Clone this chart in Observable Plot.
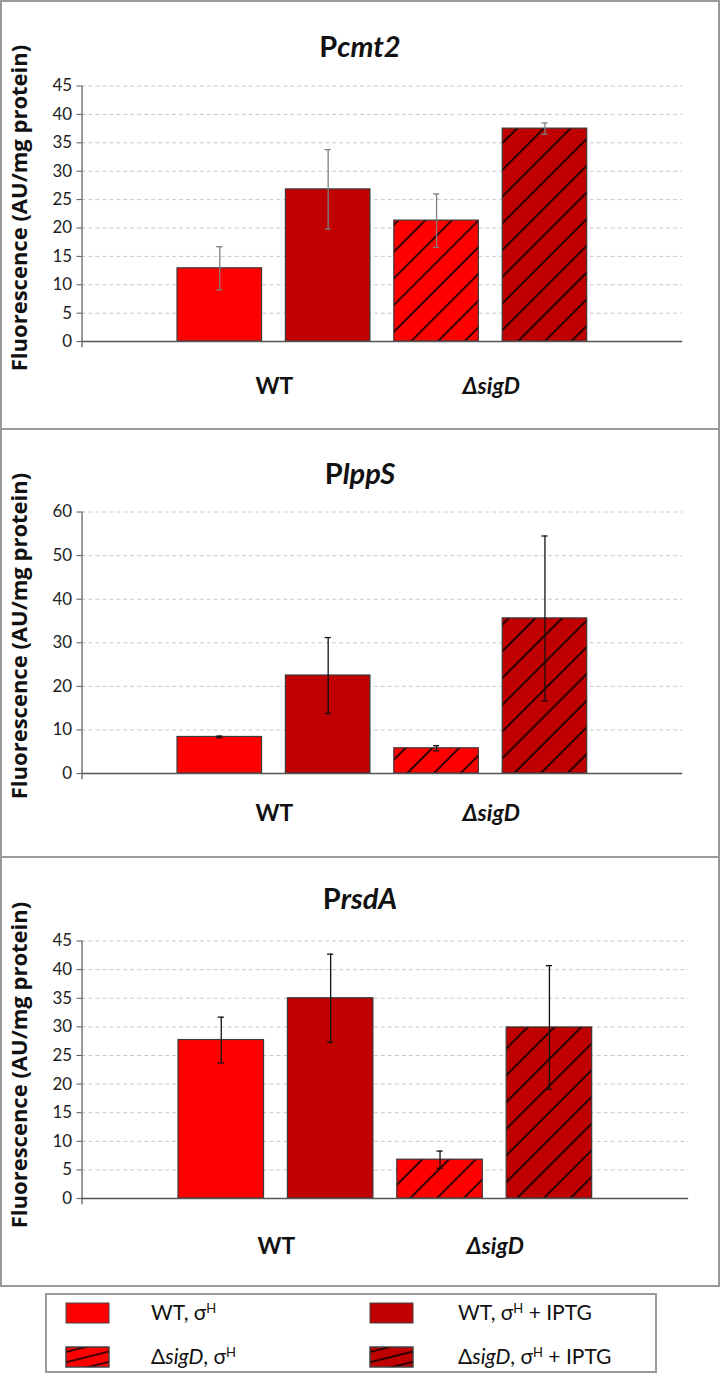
<!DOCTYPE html>
<html><head><meta charset="utf-8">
<script src="https://cdn.jsdelivr.net/npm/d3@7"></script>
<script src="https://cdn.jsdelivr.net/npm/@observablehq/plot@0.6"></script>
<style>
html,body{margin:0;padding:0;background:#fff;}
body{width:720px;height:1373px;position:relative;overflow:hidden;font-family:Lato,"Open Sans",sans-serif;color:#111;}
.panel{position:absolute;left:0;width:720px;box-sizing:border-box;border:2px solid #9a9a9a;}
.panel svg.chart{position:absolute;left:-2px;top:-2px;overflow:visible;}
.title{position:absolute;left:-2px;width:720px;text-align:center;font-weight:bold;font-size:29px;line-height:34px;color:#111;}
.ylab{position:absolute;width:400px;height:28px;line-height:28px;text-align:center;font-family:"Open Sans",sans-serif;font-weight:bold;font-size:22px;color:#111;transform:rotate(-90deg);transform-origin:50% 50%;white-space:nowrap;}
.legend{position:absolute;left:45px;top:1293px;width:612px;height:80px;box-sizing:border-box;border:2px solid #9a9a9a;background:#fff;}
.legend .sw{position:absolute;}
.legend .lt{position:absolute;font-size:21px;line-height:24px;color:#111;white-space:nowrap;}
sup{font-size:0.62em;vertical-align:0.55em;line-height:0;}
</style>
</head><body>
<svg width="0" height="0" style="position:absolute">
  <defs>
    <pattern id="hatchBar" patternUnits="userSpaceOnUse" width="19" height="19" patternTransform="rotate(45)">
      <line x1="3" y1="0" x2="3" y2="19" stroke="#000" stroke-width="1.6"/>
    </pattern>
    <pattern id="hatchLegend" patternUnits="userSpaceOnUse" width="40" height="10" patternTransform="rotate(-14)">
      <line x1="0" y1="6" x2="40" y2="6" stroke="#000" stroke-width="1.6"/>
    </pattern>
  </defs>
</svg>
<div id="root"></div>
<script>
// ---------- data ----------
const conditions = ["WT, σH", "WT, σH + IPTG", "ΔsigD, σH", "ΔsigD, σH + IPTG"];
const conditionColors = ["#ff0000", "#c00000", "#ff0000", "#c00000"];
const hatchedConditions = ["ΔsigD, σH", "ΔsigD, σH + IPTG"];
const groups = ["WT", "ΔsigD"];
const groupFirstCondition = ["WT, σH", "ΔsigD, σH"];

const panelTitles = [["P", "cmt2"], ["P", "lppS"], ["P", "rsdA"]];
const yLabel = "Fluorescence (AU/mg protein)";

const cmt2Values = [12.9, 26.8, 21.3, 37.5];
const cmt2Errors = [3.8, 7.0, 4.7, 1.0];
const cmt2Ticks = [0, 5, 10, 15, 20, 25, 30, 35, 40, 45];

const lppSValues = [8.4, 22.5, 5.8, 35.6];
const lppSErrors = [0.2, 8.7, 0.6, 18.9];
const lppSTicks = [0, 10, 20, 30, 40, 50, 60];

const rsdAValues = [27.7, 35.0, 6.8, 29.9];
const rsdAErrors = [4.0, 7.7, 1.5, 10.8];
const rsdATicks = [0, 5, 10, 15, 20, 25, 30, 35, 40, 45];

// ---------- layout (styles) ----------
const panels = [
  {values: cmt2Values, errors: cmt2Errors, ticks: cmt2Ticks, top: 0, height: 430, mt: 86, mb: 87, mr: 34, titleTop: 27, groupDy: 45, errColor: "#7f7f7f", labelCenter: 208},
  {values: lppSValues, errors: lppSErrors, ticks: lppSTicks, top: 428, height: 430, mt: 84, mb: 83, mr: 34, titleTop: 26, groupDy: 40, errColor: "#111", labelCenter: 208},
  {values: rsdAValues, errors: rsdAErrors, ticks: rsdATicks, top: 856, height: 431, mt: 85, mb: 87, mr: 28, titleTop: 23, groupDy: 48, errColor: "#111", labelCenter: 209}
];
const W = 720, ML = 82;
const padIn = 24 / 110, padOut = 0.86;

const root = document.getElementById("root");

panels.forEach((p, i) => {
  const data = conditions.map((c, k) => ({cond: c, value: p.values[k], err: p.errors[k]}));
  const hatched = data.filter(d => hatchedConditions.includes(d.cond));
  const step = (W - ML - p.mr) / (conditions.length - padIn + 2 * padOut);
  const bw = step * (1 - padIn);
  const capHalf = 3.5;
  const gridTicks = p.ticks.filter(t => t !== 0);
  const ymax = p.ticks[p.ticks.length - 1];

  const chart = Plot.plot({
    width: W,
    height: p.height,
    marginLeft: ML,
    marginRight: p.mr,
    marginTop: p.mt,
    marginBottom: p.mb,
    style: {background: "transparent", overflow: "visible", fontFamily: "Lato, 'Open Sans', sans-serif"},
    x: {type: "band", domain: conditions, paddingInner: padIn, paddingOuter: padOut, axis: null},
    y: {domain: [0, ymax], axis: null},
    color: {type: "ordinal", domain: conditions, range: conditionColors},
    marks: [
      Plot.gridY({ticks: gridTicks, stroke: "#c8c8c8", strokeOpacity: 1, strokeDasharray: "4,3"}),
      Plot.axisY({ticks: p.ticks, tickSize: 5, tickPadding: 5, fontSize: 17, label: null, stroke: "#555", color: "#222", tickFormat: d => String(d)}),
      Plot.barY(data, {x: "cond", y: "value", fill: "cond"}),
      Plot.barY(hatched, {x: "cond", y: "value", fill: "url(#hatchBar)"}),
      Plot.barY(data, {x: "cond", y: "value", fill: "none", stroke: "#3a3a3a", strokeWidth: 1.2}),
      Plot.ruleX(data, {x: "cond", y1: d => d.value - d.err, y2: d => d.value + d.err, stroke: p.errColor, strokeWidth: 1.3}),
      Plot.tickY(data, {x: "cond", y: d => d.value - d.err, stroke: p.errColor, strokeWidth: 1.3, insetLeft: bw / 2 - capHalf, insetRight: bw / 2 - capHalf}),
      Plot.tickY(data, {x: "cond", y: d => d.value + d.err, stroke: p.errColor, strokeWidth: 1.3, insetLeft: bw / 2 - capHalf, insetRight: bw / 2 - capHalf}),
      Plot.frame({anchor: "left", stroke: "#555", strokeWidth: 1.2, insetBottom: -5}),
      Plot.ruleY([0], {stroke: "#555", strokeWidth: 1.5}),
      Plot.text([groups[0]], {x: () => groupFirstCondition[0], frameAnchor: "bottom", lineAnchor: "middle", dx: step / 2, dy: p.groupDy, fontSize: 23, fontWeight: "bold", fill: "#111"}),
      Plot.text([groups[1]], {x: () => groupFirstCondition[1], frameAnchor: "bottom", lineAnchor: "middle", dx: step / 2, dy: p.groupDy, fontSize: 23, fontWeight: "bold", fontStyle: "italic", fill: "#111"})
    ]
  });
  chart.classList.add("chart");

  const panel = document.createElement("div");
  panel.className = "panel";
  panel.style.top = p.top + "px";
  panel.style.height = p.height + "px";
  panel.appendChild(chart);
  const title = document.createElement("div");
  title.className = "title";
  title.style.top = p.titleTop + "px";
  title.innerHTML = panelTitles[i][0] + "<i>" + panelTitles[i][1] + "</i>";
  panel.appendChild(title);
  const yl = document.createElement("div");
  yl.className = "ylab";
  yl.textContent = yLabel;
  yl.style.left = (18 - 2 - 200) + "px";
  yl.style.top = (p.labelCenter - 2 - 14) + "px";
  panel.appendChild(yl);
  root.appendChild(panel);
});

// ---------- legend ----------
const legend = document.createElement("div");
legend.className = "legend";
const legendPos = [
  {sx: 18, sy: 7, tx: 104, ty: 5},
  {sx: 322, sy: 7, tx: 411, ty: 5},
  {sx: 18, sy: 51, tx: 104, ty: 49},
  {sx: 322, sy: 51, tx: 411, ty: 49}
];
function legendLabel(s) {
  return s.replace("Δ" + "sigD", "Δ<i>sigD</i>").replace("σH", "σ<sup>H</sup>");
}
conditions.forEach((c, k) => {
  const pos = legendPos[k];
  const ns = "http://www.w3.org/2000/svg";
  const sw = document.createElementNS(ns, "svg");
  sw.setAttribute("class", "sw");
  sw.setAttribute("width", 45);
  sw.setAttribute("height", 22);
  sw.style.left = pos.sx + "px";
  sw.style.top = pos.sy + "px";
  const r = document.createElementNS(ns, "rect");
  r.setAttribute("x", 1); r.setAttribute("y", 1); r.setAttribute("width", 43); r.setAttribute("height", 20);
  r.setAttribute("fill", conditionColors[k]); r.setAttribute("stroke", "#444"); r.setAttribute("stroke-width", 1);
  sw.appendChild(r);
  if (hatchedConditions.includes(c)) {
    const h = document.createElementNS(ns, "rect");
    h.setAttribute("x", 1); h.setAttribute("y", 1); h.setAttribute("width", 43); h.setAttribute("height", 20);
    h.setAttribute("fill", "url(#hatchLegend)"); h.setAttribute("stroke", "#444"); h.setAttribute("stroke-width", 1);
    sw.appendChild(h);
  }
  legend.appendChild(sw);
  const t = document.createElement("div");
  t.className = "lt";
  t.style.left = pos.tx + "px";
  t.style.top = pos.ty + "px";
  t.innerHTML = legendLabel(c);
  legend.appendChild(t);
});
document.body.appendChild(legend);
</script>
</body></html>
